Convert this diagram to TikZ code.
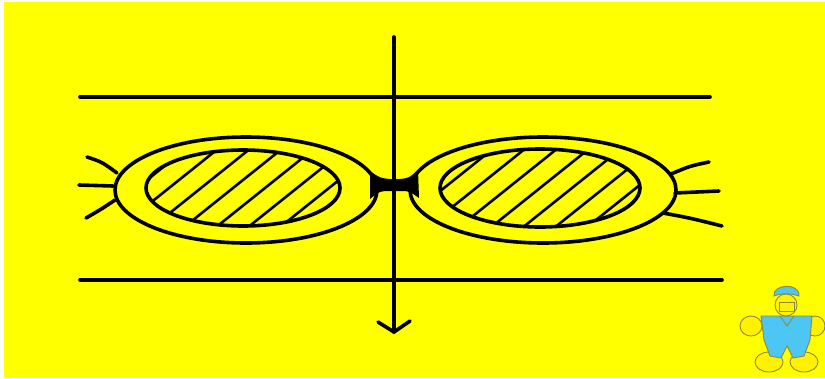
\documentclass[tikz,border=0pt]{standalone}
\begin{document}
\begin{tikzpicture}[x=1pt,y=-1pt,
  ink/.style={line width=3.6pt,line cap=round,line join=round,draw=black},
  hatch/.style={line width=2.6pt,draw=black},
  suit/.style={fill=cyan!70!white,draw=olive!60!gray,line width=0.9pt},
  limb/.style={fill=yellow,draw=olive!60!gray,line width=0.9pt}]
\definecolor{paper}{RGB}{255,255,0}
\useasboundingbox (0,0) rectangle (825,378);
\fill[white] (0,0) rectangle (825,378);
\fill[paper] (4,2) rectangle (825,378);

% field lines
\draw[ink] (80,97) -- (710,97);
\draw[ink] (80,280) -- (722,280);

% left loop: outer ring and hatched core
\draw[ink] (246,190) ellipse [x radius=131,y radius=53];
\begin{scope}
  \clip (243,188) ellipse [x radius=97,y radius=38];
  \foreach \k in {-4,...,4}
    \draw[hatch] ({243+\k*32-10-85},{188+68}) -- ({243+\k*32-10+85},{188-68});
\end{scope}
\draw[ink] (243,188) ellipse [x radius=97,y radius=38];

% right loop: outer ring and hatched core
\draw[ink] (543,190) ellipse [x radius=133,y radius=53];
\begin{scope}
  \clip (540,188) ellipse [x radius=100,y radius=39];
  \foreach \k in {-4,...,4}
    \draw[hatch] ({540+\k*32-85},{188+68}) -- ({540+\k*32+85},{188-68});
\end{scope}
\draw[ink] (540,188) ellipse [x radius=100,y radius=39];

% pinch between the loops
\fill[black] (370,171) .. controls (380,178) .. (390,179) -- (400,179)
  .. controls (409,178) .. (418,170) -- (419,198)
  .. controls (409,191) .. (400,191) -- (390,191)
  .. controls (380,191) .. (370,199) -- cycle;

% whiskers on the left
\draw[ink] (87,157) .. controls (102,162) .. (117,173);
\draw[ink] (79,185) -- (113,186);
\draw[ink] (86,218) .. controls (100,210) .. (115,200);

% whiskers on the right
\draw[ink] (671,174) .. controls (690,166) .. (709,162);
\draw[ink] (675,193) -- (719,191);
\draw[ink] (663,213) .. controls (690,218) .. (722,226);

% axis with arrow
\coordinate (top) at (394,37);
\coordinate (tip) at (394,332);
\draw[ink] (top) -- (tip);
\draw[ink] (378,322) -- (tip) -- (410,321);

% little figure
\draw[limb] (751,326) ellipse [x radius=11,y radius=10];
\draw[limb] (815,326) ellipse [x radius=10,y radius=10];
\draw[limb] (769,362) ellipse [x radius=14,y radius=10];
\draw[limb] (804,362) ellipse [x radius=14,y radius=10];
\draw[suit] (761,316) -- (812,316) -- (810,340) -- (804,356) -- (793,358)
  -- (787,346) -- (781,358) -- (770,356) -- (764,340) -- cycle;
\draw[limb] (786,305) ellipse [x radius=11,y radius=11];
\draw[suit] (774,296) .. controls (772,284) and (800,282) .. (799,296)
  .. controls (790,293) and (782,293) .. (774,296) -- cycle;
\draw[limb,fill=yellow] (779,302) rectangle (794,311);
\draw[olive!60!gray,line width=0.8pt] (780,316) -- (787,326) -- (794,316);
\end{tikzpicture}
\end{document}
